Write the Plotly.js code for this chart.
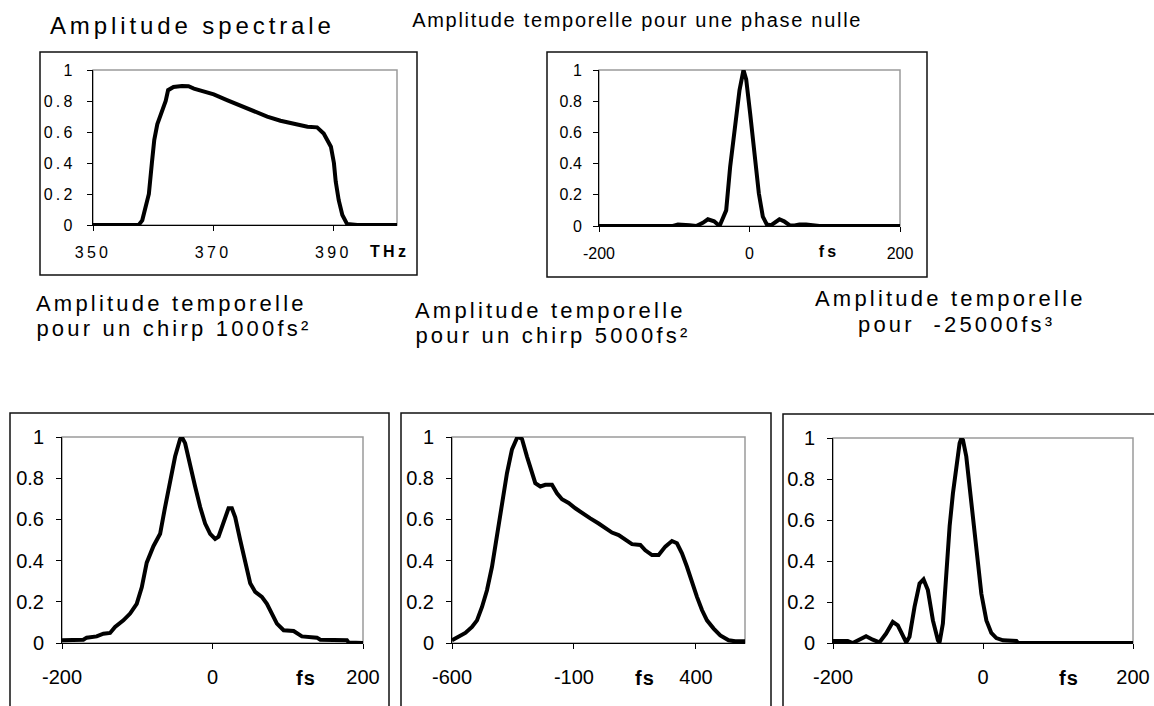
<!DOCTYPE html>
<html>
<head>
<meta charset="utf-8">
<script src="https://cdn.plot.ly/plotly-3.0.1.min.js"></script>
<style>
  html, body { margin: 0; padding: 0; background: #fff; }
  #chart { width: 1154px; height: 706px; }
  .subplot.xy .xtick text, .subplot.xy .ytick text,
  .subplot.x2y2 .xtick text, .subplot.x2y2 .ytick text { letter-spacing: 3.3px; }
  .subplot.x3y3 .xtick text, .subplot.x3y3 .ytick text,
  .subplot.x4y4 .xtick text, .subplot.x4y4 .ytick text,
  .subplot.x5y5 .xtick text, .subplot.x5y5 .ytick text { letter-spacing: 1px; }
  g.annotation[data-index="0"] text { letter-spacing: 3.9px; }
  g.annotation[data-index="1"] text { letter-spacing: 1.7px; }
  g.annotation[data-index="2"] text,
  g.annotation[data-index="3"] text,
  g.annotation[data-index="4"] text,
  g.annotation[data-index="5"] text,
  g.annotation[data-index="6"] text,
  g.annotation[data-index="7"] text { letter-spacing: 3.2px; }
  g.annotation[data-index="8"] text,
  g.annotation[data-index="9"] text { letter-spacing: 3.3px; }
  g.annotation[data-index="10"] text,
  g.annotation[data-index="11"] text,
  g.annotation[data-index="12"] text { letter-spacing: 1px; }
</style>
</head>
<body>
<div id="chart"></div>
<script>
// ---------- data ----------
// Chart 1: spectral amplitude (THz)
const specX = [350, 352, 354, 356, 357.6, 358.2, 359.3, 359.8, 360.2, 360.7, 361.5, 362.1, 362.5, 363.4, 364.8, 365.9, 366.8, 367.9, 370.1, 372.3, 374.6, 376.8, 379.0, 381.2, 383.4, 385.7, 387.3, 388.4, 389.6, 390.1, 390.4, 390.9, 391.5, 392.3, 394, 396, 398, 400.6];
const specY = [0, 0, 0, 0, 0, 0.03, 0.2, 0.4, 0.55, 0.65, 0.74, 0.8, 0.87, 0.89, 0.897, 0.895, 0.88, 0.867, 0.843, 0.806, 0.768, 0.731, 0.699, 0.673, 0.652, 0.634, 0.63, 0.59, 0.505, 0.40, 0.28, 0.16, 0.065, 0.006, 0, 0, 0, 0];

// Chart 2: temporal amplitude, zero phase (fs)
const zeroX = [-200, -150, -110, -101.8, -95, -88.5, -79.6, -70.8, -62, -55.3, -47, -39.8, -31, -25.7, -18.6, -13.3, -8, -4.4, 0.9, 6.6, 12.4, 17.7, 23, 28.8, 34, 39.8, 46, 53.1, 60, 66.4, 75.2, 84.1, 92.9, 120, 200];
const zeroY = [0, 0, 0, 0, 0.01, 0.01, 0.005, 0, 0.02, 0.043, 0.03, 0, 0.1, 0.38, 0.66, 0.87, 1, 0.94, 0.72, 0.49, 0.21, 0.06, 0.01, 0.005, 0.025, 0.043, 0.03, 0.005, 0.003, 0.01, 0.01, 0.005, 0, 0, 0];

// Chart 3: chirp 1000 fs²
const chirp1X = [-200, -171.6, -167.2, -153.9, -145.0, -136.1, -129.5, -118.4, -109.5, -100.7, -94.0, -87.4, -78.5, -69.6, -63.0, -56.3, -49.7, -43.0, -40.8, -36.4, -29.7, -23.1, -16.4, -9.8, -3.1, 3.5, 8.0, 14.6, 21.3, 25.7, 30.2, 36.8, 43.5, 50.1, 56.8, 65.6, 72.3, 78.9, 85.6, 94.5, 107.8, 118.8, 138.8, 143.2, 178.7, 180.9, 200.5];
const chirp1Y = [0.013, 0.016, 0.026, 0.032, 0.045, 0.049, 0.078, 0.11, 0.143, 0.19, 0.27, 0.39, 0.47, 0.53, 0.66, 0.79, 0.905, 0.99, 1.0, 0.97, 0.857, 0.76, 0.66, 0.58, 0.53, 0.505, 0.516, 0.59, 0.654, 0.654, 0.61, 0.5, 0.386, 0.29, 0.248, 0.224, 0.19, 0.143, 0.094, 0.062, 0.058, 0.032, 0.026, 0.016, 0.013, 0.003, 0];

// Chart 4: chirp 5000 fs²
const chirp5X = [-600, -572.7, -545.4, -518.0, -497.5, -477.0, -456.6, -436.1, -415.6, -395.1, -374.6, -354.1, -333.6, -326.8, -313.1, -292.6, -272.1, -258.5, -238.0, -217.5, -190.2, -169.7, -149.2, -121.9, -94.5, -67.2, -33.1, 1.1, 28.4, 55.7, 83.1, 110.4, 137.7, 171.9, 192.3, 219.7, 247.0, 274.3, 301.6, 322.1, 342.6, 363.1, 383.6, 404.1, 424.6, 445.1, 472.4, 499.7, 533.9, 561.2, 601];
const chirp5Y = [0.013, 0.03, 0.049, 0.078, 0.11, 0.175, 0.256, 0.37, 0.53, 0.695, 0.825, 0.94, 0.995, 1.0, 0.99, 0.905, 0.825, 0.776, 0.76, 0.768, 0.768, 0.727, 0.698, 0.68, 0.654, 0.63, 0.605, 0.58, 0.56, 0.536, 0.524, 0.5, 0.48, 0.476, 0.45, 0.427, 0.427, 0.468, 0.495, 0.484, 0.435, 0.37, 0.29, 0.224, 0.16, 0.11, 0.07, 0.037, 0.013, 0.008, 0.008];

// Chart 5: third order phase -25000 fs³
const tod3X = [-200, -180.4, -173.7, -167.0, -155.9, -147.0, -138.1, -129.2, -120.3, -113.6, -106.9, -102.4, -98.0, -91.3, -84.6, -79.3, -73.5, -66.8, -60.1, -57.9, -53.5, -49.0, -44.5, -40.1, -35.6, -31.2, -29.0, -26.7, -22.3, -17.8, -13.4, -8.9, -2.2, 4.5, 11.1, 17.8, 26.7, 44.5, 46.8, 200];
const tod3Y = [0.01, 0.01, 0, 0.013, 0.033, 0.016, 0.003, 0.046, 0.103, 0.086, 0.03, 0.003, 0.03, 0.176, 0.29, 0.31, 0.258, 0.11, 0.013, 0.003, 0.095, 0.34, 0.57, 0.73, 0.86, 0.975, 0.997, 0.99, 0.91, 0.763, 0.617, 0.437, 0.24, 0.11, 0.049, 0.024, 0.013, 0.01, 0, 0];

// Tick labels
const yTickVals = [0, 0.2, 0.4, 0.6, 0.8, 1];
const yTickText = ['0', '0.2', '0.4', '0.6', '0.8', '1'];
const specTickVals = [350, 370, 390];
const specTickText = ['350', '370', '390'];
const fsTickVals = [-200, 0, 200];
const fsTickText = ['-200', '0', '200'];
const chirp5TickVals = [-600, -100, 400];
const chirp5TickText = ['-600', '-100', '400'];

// Title lines
const titleLines = [
  'Amplitude spectrale',
  'Amplitude temporelle pour une phase nulle',
  'Amplitude temporelle',
  'pour un chirp 1000fs²',
  'Amplitude temporelle',
  'pour un chirp 5000fs²',
  'Amplitude temporelle',
  'pour  -25000fs³'
];
const units = ['THz', 'fs', 'fs', 'fs', 'fs'];

// ---------- layout helpers (pixel -> paper) ----------
const W = 1154, H = 706;
const px = p => p / W;
const py = p => 1 - p / H;

const FONT = 'Arial, "Liberation Sans", sans-serif';
const lineStyle = { color: '#000', width: 4 };

const traces = [
  { x: specX, y: specY, xaxis: 'x', yaxis: 'y' },
  { x: zeroX, y: zeroY, xaxis: 'x2', yaxis: 'y2' },
  { x: chirp1X, y: chirp1Y, xaxis: 'x3', yaxis: 'y3' },
  { x: chirp5X, y: chirp5Y, xaxis: 'x4', yaxis: 'y4' },
  { x: tod3X, y: tod3Y, xaxis: 'x5', yaxis: 'y5' }
].map(t => Object.assign(t, { type: 'scatter', mode: 'lines', line: lineStyle, hoverinfo: 'skip', showlegend: false }));

// plot-area pixel boxes [left, top, right, bottom]
const areas = [
  [93, 70, 397, 225],
  [599, 70, 900, 226],
  [62, 437, 363, 643],
  [452, 437, 745, 643],
  [833, 438, 1133, 643]
];
const xRanges = [[350, 400.6], [-200, 200], [-200, 200], [-600, 601], [-200, 200]];
const xTicks = [[specTickVals, specTickText], [fsTickVals, fsTickText], [fsTickVals, fsTickText], [chirp5TickVals, chirp5TickText], [fsTickVals, fsTickText]];

const layout = {
  width: W, height: H,
  margin: { l: 0, r: 0, t: 0, b: 0, pad: 0 },
  paper_bgcolor: '#fff', plot_bgcolor: '#fff',
  showlegend: false,
  font: { family: FONT, color: '#000' },
  shapes: [],
  annotations: []
};

areas.forEach((a, i) => {
  const n = i === 0 ? '' : String(i + 1);
  const top = i < 2;
  const tfs = top ? 16 : 20;
  layout['xaxis' + n] = {
    domain: [px(a[0]), px(a[2])],
    anchor: 'y' + n,
    range: xRanges[i],
    tickmode: 'array', tickvals: xTicks[i][0], ticktext: xTicks[i][1],
    ticks: 'outside', ticklen: 5, tickwidth: 1, tickcolor: '#000',
    showline: true, linecolor: '#000', linewidth: 1,
    showgrid: false, zeroline: false, fixedrange: true,
    tickfont: { family: FONT, size: tfs, color: '#000' },
    ticklabelstandoff: top ? 8 : 11
  };
  layout['yaxis' + n] = {
    domain: [py(a[3]), py(a[1])],
    anchor: 'x' + n,
    range: [0, 1],
    tickmode: 'array', tickvals: yTickVals, ticktext: yTickText,
    ticks: 'outside', ticklen: 5, tickwidth: 1, tickcolor: '#000',
    showline: true, linecolor: '#000', linewidth: 1,
    showgrid: false, zeroline: false, fixedrange: true,
    tickfont: { family: FONT, size: tfs, color: '#000' },
    ticklabelstandoff: 8
  };
  // grey frame of plot area
  layout.shapes.push({
    type: 'rect', xref: 'x' + n + ' domain', yref: 'y' + n + ' domain',
    x0: 0, x1: 1, y0: 0, y1: 1,
    line: { color: '#9a9a9a', width: 1.5 }, layer: 'below'
  });
});

// outer chart boxes (pixels)
const boxes = [
  [40, 52, 417, 275],
  [547, 52, 927, 277],
  [10, 413, 389, 720],
  [401, 413, 771, 720],
  [783, 414, 1170, 720]
];
boxes.forEach(b => layout.shapes.push({
  type: 'rect', xref: 'paper', yref: 'paper',
  x0: px(b[0]), x1: px(b[2]), y0: py(b[3]), y1: py(b[1]),
  line: { color: '#111', width: 1.5 }, layer: 'below'
}));

// title lines: [centre x, centre y, font size]
const titlePos = [
  [192, 26, 24], [637, 20, 20],
  [171, 303, 22], [174, 328, 22],
  [550, 310, 22], [553, 335, 22],
  [950, 298, 22], [956, 324, 22]
];
titleLines.forEach((t, i) => layout.annotations.push({
  text: t, xref: 'paper', yref: 'paper',
  x: px(titlePos[i][0]), y: py(titlePos[i][1]),
  xanchor: 'center', yanchor: 'middle', align: 'center', showarrow: false,
  font: { family: FONT, size: titlePos[i][2], color: '#000' }
}));

// axis unit labels
const unitPos = [[389, 251, 16], [829, 251, 16], [306, 678, 20], [645, 678, 20], [1069, 678, 20]];
units.forEach((u, i) => layout.annotations.push({
  text: '<b>' + u + '</b>', xref: 'paper', yref: 'paper',
  x: px(unitPos[i][0]), y: py(unitPos[i][1]),
  xanchor: 'center', yanchor: 'middle', showarrow: false,
  font: { family: FONT, size: unitPos[i][2], color: '#000' }
}));

Plotly.newPlot('chart', traces, layout, { staticPlot: true, displayModeBar: false });
</script>
</body>
</html>
